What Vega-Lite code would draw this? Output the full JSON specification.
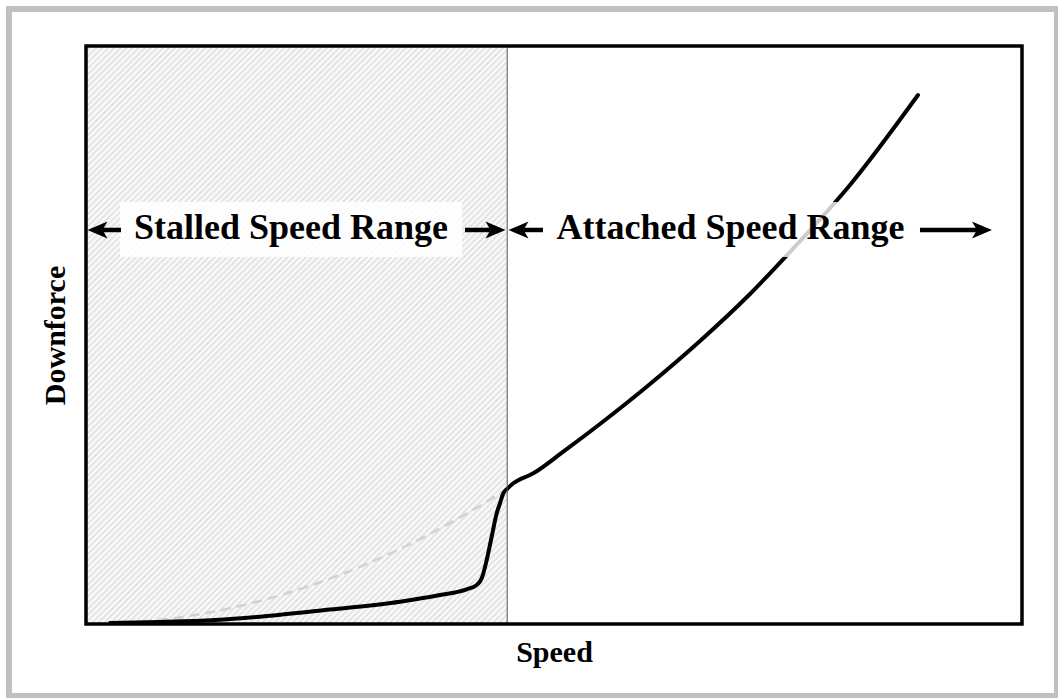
{
  "$schema": "https://vega.github.io/schema/vega-lite/v6.json",
  "width": 936,
  "height": 578,
  "autosize": {"type": "none"},
  "padding": {"left": 86, "top": 46, "right": 36, "bottom": 74},
  "background": "#ffffff",
  "config": {
    "view": {"stroke": null},
    "axis": {"ticks": false, "labels": false, "domain": false, "grid": false, "titleFont": "Liberation Serif", "titleFontSize": 30, "titleFontWeight": "bold", "titleColor": "#000000"}
  },
  "datasets": {
    "one": [{}],
    "actual": [
      {"x": 2.56, "y": 0.17}, {"x": 7.91, "y": 0.35}, {"x": 13.78, "y": 0.69}, {"x": 18.59, "y": 1.26},
      {"x": 26.07, "y": 2.51}, {"x": 33.55, "y": 3.86}, {"x": 37.82, "y": 5.02}, {"x": 40.67, "y": 6.0},
      {"x": 41.74, "y": 6.75}, {"x": 42.28, "y": 7.91}, {"x": 42.81, "y": 11.07}, {"x": 43.34, "y": 15.1},
      {"x": 43.88, "y": 19.15}, {"x": 44.23, "y": 20.88}, {"x": 44.58, "y": 22.61}, {"x": 44.95, "y": 23.3},
      {"x": 45.65, "y": 24.34}, {"x": 47.79, "y": 26.07}, {"x": 50.99, "y": 29.81}, {"x": 54.91, "y": 34.6},
      {"x": 60.26, "y": 41.52}, {"x": 65.6, "y": 48.96}, {"x": 70.94, "y": 57.09}, {"x": 75.21, "y": 64.36},
      {"x": 81.62, "y": 75.95}, {"x": 88.89, "y": 91.52}
    ],
    "ideal": [
      {"x": 2.56, "y": 0.08}, {"x": 6.41, "y": 0.47}, {"x": 10.68, "y": 1.31}, {"x": 16.03, "y": 2.96},
      {"x": 21.37, "y": 5.28}, {"x": 26.71, "y": 8.24}, {"x": 32.05, "y": 11.85}, {"x": 37.39, "y": 16.14},
      {"x": 42.74, "y": 21.09}, {"x": 44.98, "y": 23.36}
    ],
    "labels": [
      {"label": "Stalled Speed Range", "x": 21.9},
      {"label": "Attached Speed Range", "x": 68.86}
    ],
    "arrows": [
      {"dir": "left", "tip": 0.16, "neck": 1.76, "tail": 3.74},
      {"dir": "right", "tip": 44.82, "neck": 43.22, "tail": 40.49},
      {"dir": "left", "tip": 45.14, "neck": 46.74, "tail": 48.82},
      {"dir": "right", "tip": 96.79, "neck": 95.19, "tail": 89.1}
    ]
  },
  "layer": [
    {
      "data": {"name": "one"},
      "mark": {"type": "rect", "fill": {"gradient": "linear", "x1": 0, "y1": 0, "x2": 1, "y2": 1.3723, "stops": [
        {"offset":0,"color":"#e0e0e0"},{"offset":0.0025,"color":"#fff"},{"offset":0.005,"color":"#e0e0e0"},{"offset":0.0075,"color":"#fff"},
        {"offset":0.01,"color":"#e0e0e0"},{"offset":0.0125,"color":"#fff"},{"offset":0.015,"color":"#e0e0e0"},{"offset":0.0175,"color":"#fff"},
        {"offset":0.02,"color":"#e0e0e0"},{"offset":0.0225,"color":"#fff"},{"offset":0.025,"color":"#e0e0e0"},{"offset":0.0275,"color":"#fff"},
        {"offset":0.03,"color":"#e0e0e0"},{"offset":0.0325,"color":"#fff"},{"offset":0.035,"color":"#e0e0e0"},{"offset":0.0375,"color":"#fff"},
        {"offset":0.04,"color":"#e0e0e0"},{"offset":0.0425,"color":"#fff"},{"offset":0.045,"color":"#e0e0e0"},{"offset":0.0475,"color":"#fff"},
        {"offset":0.05,"color":"#e0e0e0"},{"offset":0.0525,"color":"#fff"},{"offset":0.055,"color":"#e0e0e0"},{"offset":0.0575,"color":"#fff"},
        {"offset":0.06,"color":"#e0e0e0"},{"offset":0.0625,"color":"#fff"},{"offset":0.065,"color":"#e0e0e0"},{"offset":0.0675,"color":"#fff"},
        {"offset":0.07,"color":"#e0e0e0"},{"offset":0.0725,"color":"#fff"},{"offset":0.075,"color":"#e0e0e0"},{"offset":0.0775,"color":"#fff"},
        {"offset":0.08,"color":"#e0e0e0"},{"offset":0.0825,"color":"#fff"},{"offset":0.085,"color":"#e0e0e0"},{"offset":0.0875,"color":"#fff"},
        {"offset":0.09,"color":"#e0e0e0"},{"offset":0.0925,"color":"#fff"},{"offset":0.095,"color":"#e0e0e0"},{"offset":0.0975,"color":"#fff"},
        {"offset":0.10,"color":"#e0e0e0"},{"offset":0.1025,"color":"#fff"},{"offset":0.105,"color":"#e0e0e0"},{"offset":0.1075,"color":"#fff"},
        {"offset":0.11,"color":"#e0e0e0"},{"offset":0.1125,"color":"#fff"},{"offset":0.115,"color":"#e0e0e0"},{"offset":0.1175,"color":"#fff"},
        {"offset":0.12,"color":"#e0e0e0"},{"offset":0.1225,"color":"#fff"},{"offset":0.125,"color":"#e0e0e0"},{"offset":0.1275,"color":"#fff"},
        {"offset":0.13,"color":"#e0e0e0"},{"offset":0.1325,"color":"#fff"},{"offset":0.135,"color":"#e0e0e0"},{"offset":0.1375,"color":"#fff"},
        {"offset":0.14,"color":"#e0e0e0"},{"offset":0.1425,"color":"#fff"},{"offset":0.145,"color":"#e0e0e0"},{"offset":0.1475,"color":"#fff"},
        {"offset":0.15,"color":"#e0e0e0"},{"offset":0.1525,"color":"#fff"},{"offset":0.155,"color":"#e0e0e0"},{"offset":0.1575,"color":"#fff"},
        {"offset":0.16,"color":"#e0e0e0"},{"offset":0.1625,"color":"#fff"},{"offset":0.165,"color":"#e0e0e0"},{"offset":0.1675,"color":"#fff"},
        {"offset":0.17,"color":"#e0e0e0"},{"offset":0.1725,"color":"#fff"},{"offset":0.175,"color":"#e0e0e0"},{"offset":0.1775,"color":"#fff"},
        {"offset":0.18,"color":"#e0e0e0"},{"offset":0.1825,"color":"#fff"},{"offset":0.185,"color":"#e0e0e0"},{"offset":0.1875,"color":"#fff"},
        {"offset":0.19,"color":"#e0e0e0"},{"offset":0.1925,"color":"#fff"},{"offset":0.195,"color":"#e0e0e0"},{"offset":0.1975,"color":"#fff"},
        {"offset":0.20,"color":"#e0e0e0"},{"offset":0.2025,"color":"#fff"},{"offset":0.205,"color":"#e0e0e0"},{"offset":0.2075,"color":"#fff"},
        {"offset":0.21,"color":"#e0e0e0"},{"offset":0.2125,"color":"#fff"},{"offset":0.215,"color":"#e0e0e0"},{"offset":0.2175,"color":"#fff"},
        {"offset":0.22,"color":"#e0e0e0"},{"offset":0.2225,"color":"#fff"},{"offset":0.225,"color":"#e0e0e0"},{"offset":0.2275,"color":"#fff"},
        {"offset":0.23,"color":"#e0e0e0"},{"offset":0.2325,"color":"#fff"},{"offset":0.235,"color":"#e0e0e0"},{"offset":0.2375,"color":"#fff"},
        {"offset":0.24,"color":"#e0e0e0"},{"offset":0.2425,"color":"#fff"},{"offset":0.245,"color":"#e0e0e0"},{"offset":0.2475,"color":"#fff"},
        {"offset":0.25,"color":"#e0e0e0"},{"offset":0.2525,"color":"#fff"},{"offset":0.255,"color":"#e0e0e0"},{"offset":0.2575,"color":"#fff"},
        {"offset":0.26,"color":"#e0e0e0"},{"offset":0.2625,"color":"#fff"},{"offset":0.265,"color":"#e0e0e0"},{"offset":0.2675,"color":"#fff"},
        {"offset":0.27,"color":"#e0e0e0"},{"offset":0.2725,"color":"#fff"},{"offset":0.275,"color":"#e0e0e0"},{"offset":0.2775,"color":"#fff"},
        {"offset":0.28,"color":"#e0e0e0"},{"offset":0.2825,"color":"#fff"},{"offset":0.285,"color":"#e0e0e0"},{"offset":0.2875,"color":"#fff"},
        {"offset":0.29,"color":"#e0e0e0"},{"offset":0.2925,"color":"#fff"},{"offset":0.295,"color":"#e0e0e0"},{"offset":0.2975,"color":"#fff"},
        {"offset":0.30,"color":"#e0e0e0"},{"offset":0.3025,"color":"#fff"},{"offset":0.305,"color":"#e0e0e0"},{"offset":0.3075,"color":"#fff"},
        {"offset":0.31,"color":"#e0e0e0"},{"offset":0.3125,"color":"#fff"},{"offset":0.315,"color":"#e0e0e0"},{"offset":0.3175,"color":"#fff"},
        {"offset":0.32,"color":"#e0e0e0"},{"offset":0.3225,"color":"#fff"},{"offset":0.325,"color":"#e0e0e0"},{"offset":0.3275,"color":"#fff"},
        {"offset":0.33,"color":"#e0e0e0"},{"offset":0.3325,"color":"#fff"},{"offset":0.335,"color":"#e0e0e0"},{"offset":0.3375,"color":"#fff"},
        {"offset":0.34,"color":"#e0e0e0"},{"offset":0.3425,"color":"#fff"},{"offset":0.345,"color":"#e0e0e0"},{"offset":0.3475,"color":"#fff"},
        {"offset":0.35,"color":"#e0e0e0"},{"offset":0.3525,"color":"#fff"},{"offset":0.355,"color":"#e0e0e0"},{"offset":0.3575,"color":"#fff"},
        {"offset":0.36,"color":"#e0e0e0"},{"offset":0.3625,"color":"#fff"},{"offset":0.365,"color":"#e0e0e0"},{"offset":0.3675,"color":"#fff"},
        {"offset":0.37,"color":"#e0e0e0"},{"offset":0.3725,"color":"#fff"},{"offset":0.375,"color":"#e0e0e0"},{"offset":0.3775,"color":"#fff"},
        {"offset":0.38,"color":"#e0e0e0"},{"offset":0.3825,"color":"#fff"},{"offset":0.385,"color":"#e0e0e0"},{"offset":0.3875,"color":"#fff"},
        {"offset":0.39,"color":"#e0e0e0"},{"offset":0.3925,"color":"#fff"},{"offset":0.395,"color":"#e0e0e0"},{"offset":0.3975,"color":"#fff"},
        {"offset":0.40,"color":"#e0e0e0"},{"offset":0.4025,"color":"#fff"},{"offset":0.405,"color":"#e0e0e0"},{"offset":0.4075,"color":"#fff"},
        {"offset":0.41,"color":"#e0e0e0"},{"offset":0.4125,"color":"#fff"},{"offset":0.415,"color":"#e0e0e0"},{"offset":0.4175,"color":"#fff"},
        {"offset":0.42,"color":"#e0e0e0"},{"offset":0.4225,"color":"#fff"},{"offset":0.425,"color":"#e0e0e0"},{"offset":0.4275,"color":"#fff"},
        {"offset":0.43,"color":"#e0e0e0"},{"offset":0.4325,"color":"#fff"},{"offset":0.435,"color":"#e0e0e0"},{"offset":0.4375,"color":"#fff"},
        {"offset":0.44,"color":"#e0e0e0"},{"offset":0.4425,"color":"#fff"},{"offset":0.445,"color":"#e0e0e0"},{"offset":0.4475,"color":"#fff"},
        {"offset":0.45,"color":"#e0e0e0"},{"offset":0.4525,"color":"#fff"},{"offset":0.455,"color":"#e0e0e0"},{"offset":0.4575,"color":"#fff"},
        {"offset":0.46,"color":"#e0e0e0"},{"offset":0.4625,"color":"#fff"},{"offset":0.465,"color":"#e0e0e0"},{"offset":0.4675,"color":"#fff"},
        {"offset":0.47,"color":"#e0e0e0"},{"offset":0.4725,"color":"#fff"},{"offset":0.475,"color":"#e0e0e0"},{"offset":0.4775,"color":"#fff"},
        {"offset":0.48,"color":"#e0e0e0"},{"offset":0.4825,"color":"#fff"},{"offset":0.485,"color":"#e0e0e0"},{"offset":0.4875,"color":"#fff"},
        {"offset":0.49,"color":"#e0e0e0"},{"offset":0.4925,"color":"#fff"},{"offset":0.495,"color":"#e0e0e0"},{"offset":0.4975,"color":"#fff"},
        {"offset":0.50,"color":"#e0e0e0"},{"offset":0.5025,"color":"#fff"},{"offset":0.505,"color":"#e0e0e0"},{"offset":0.5075,"color":"#fff"},
        {"offset":0.51,"color":"#e0e0e0"},{"offset":0.5125,"color":"#fff"},{"offset":0.515,"color":"#e0e0e0"},{"offset":0.5175,"color":"#fff"},
        {"offset":0.52,"color":"#e0e0e0"},{"offset":0.5225,"color":"#fff"},{"offset":0.525,"color":"#e0e0e0"},{"offset":0.5275,"color":"#fff"},
        {"offset":0.53,"color":"#e0e0e0"},{"offset":0.5325,"color":"#fff"},{"offset":0.535,"color":"#e0e0e0"},{"offset":0.5375,"color":"#fff"},
        {"offset":0.54,"color":"#e0e0e0"},{"offset":0.5425,"color":"#fff"},{"offset":0.545,"color":"#e0e0e0"},{"offset":0.5475,"color":"#fff"},
        {"offset":0.55,"color":"#e0e0e0"},{"offset":0.5525,"color":"#fff"},{"offset":0.555,"color":"#e0e0e0"},{"offset":0.5575,"color":"#fff"},
        {"offset":0.56,"color":"#e0e0e0"},{"offset":0.5625,"color":"#fff"},{"offset":0.565,"color":"#e0e0e0"},{"offset":0.5675,"color":"#fff"},
        {"offset":0.57,"color":"#e0e0e0"},{"offset":0.5725,"color":"#fff"},{"offset":0.575,"color":"#e0e0e0"},{"offset":0.5775,"color":"#fff"},
        {"offset":0.58,"color":"#e0e0e0"},{"offset":0.5825,"color":"#fff"},{"offset":0.585,"color":"#e0e0e0"},{"offset":0.5875,"color":"#fff"},
        {"offset":0.59,"color":"#e0e0e0"},{"offset":0.5925,"color":"#fff"},{"offset":0.595,"color":"#e0e0e0"},{"offset":0.5975,"color":"#fff"},
        {"offset":0.60,"color":"#e0e0e0"},{"offset":0.6025,"color":"#fff"},{"offset":0.605,"color":"#e0e0e0"},{"offset":0.6075,"color":"#fff"},
        {"offset":0.61,"color":"#e0e0e0"},{"offset":0.6125,"color":"#fff"},{"offset":0.615,"color":"#e0e0e0"},{"offset":0.6175,"color":"#fff"},
        {"offset":0.62,"color":"#e0e0e0"},{"offset":0.6225,"color":"#fff"},{"offset":0.625,"color":"#e0e0e0"},{"offset":0.6275,"color":"#fff"},
        {"offset":0.63,"color":"#e0e0e0"},{"offset":0.6325,"color":"#fff"},{"offset":0.635,"color":"#e0e0e0"},{"offset":0.6375,"color":"#fff"},
        {"offset":0.64,"color":"#e0e0e0"},{"offset":0.6425,"color":"#fff"},{"offset":0.645,"color":"#e0e0e0"},{"offset":0.6475,"color":"#fff"},
        {"offset":0.65,"color":"#e0e0e0"},{"offset":0.6525,"color":"#fff"},{"offset":0.655,"color":"#e0e0e0"},{"offset":0.6575,"color":"#fff"},
        {"offset":0.66,"color":"#e0e0e0"},{"offset":0.6625,"color":"#fff"},{"offset":0.665,"color":"#e0e0e0"},{"offset":0.6675,"color":"#fff"},
        {"offset":0.67,"color":"#e0e0e0"},{"offset":0.6725,"color":"#fff"},{"offset":0.675,"color":"#e0e0e0"},{"offset":0.6775,"color":"#fff"},
        {"offset":0.68,"color":"#e0e0e0"},{"offset":0.6825,"color":"#fff"},{"offset":0.685,"color":"#e0e0e0"},{"offset":0.6875,"color":"#fff"},
        {"offset":0.69,"color":"#e0e0e0"},{"offset":0.6925,"color":"#fff"},{"offset":0.695,"color":"#e0e0e0"},{"offset":0.6975,"color":"#fff"},
        {"offset":0.70,"color":"#e0e0e0"},{"offset":0.7025,"color":"#fff"},{"offset":0.705,"color":"#e0e0e0"},{"offset":0.7075,"color":"#fff"},
        {"offset":0.71,"color":"#e0e0e0"},{"offset":0.7125,"color":"#fff"},{"offset":0.715,"color":"#e0e0e0"},{"offset":0.7175,"color":"#fff"},
        {"offset":0.72,"color":"#e0e0e0"},{"offset":0.7225,"color":"#fff"},{"offset":0.725,"color":"#e0e0e0"},{"offset":0.7275,"color":"#fff"},
        {"offset":0.73,"color":"#e0e0e0"},{"offset":0.7325,"color":"#fff"},{"offset":0.735,"color":"#e0e0e0"},{"offset":0.7375,"color":"#fff"},
        {"offset":0.74,"color":"#e0e0e0"},{"offset":0.7425,"color":"#fff"},{"offset":0.745,"color":"#e0e0e0"},{"offset":0.7475,"color":"#fff"},
        {"offset":0.75,"color":"#e0e0e0"},{"offset":0.7525,"color":"#fff"},{"offset":0.755,"color":"#e0e0e0"},{"offset":0.7575,"color":"#fff"},
        {"offset":0.76,"color":"#e0e0e0"},{"offset":0.7625,"color":"#fff"},{"offset":0.765,"color":"#e0e0e0"},{"offset":0.7675,"color":"#fff"},
        {"offset":0.77,"color":"#e0e0e0"},{"offset":0.7725,"color":"#fff"},{"offset":0.775,"color":"#e0e0e0"},{"offset":0.7775,"color":"#fff"},
        {"offset":0.78,"color":"#e0e0e0"},{"offset":0.7825,"color":"#fff"},{"offset":0.785,"color":"#e0e0e0"},{"offset":0.7875,"color":"#fff"},
        {"offset":0.79,"color":"#e0e0e0"},{"offset":0.7925,"color":"#fff"},{"offset":0.795,"color":"#e0e0e0"},{"offset":0.7975,"color":"#fff"},
        {"offset":0.80,"color":"#e0e0e0"},{"offset":0.8025,"color":"#fff"},{"offset":0.805,"color":"#e0e0e0"},{"offset":0.8075,"color":"#fff"},
        {"offset":0.81,"color":"#e0e0e0"},{"offset":0.8125,"color":"#fff"},{"offset":0.815,"color":"#e0e0e0"},{"offset":0.8175,"color":"#fff"},
        {"offset":0.82,"color":"#e0e0e0"},{"offset":0.8225,"color":"#fff"},{"offset":0.825,"color":"#e0e0e0"}
      ]}},
      "encoding": {
        "x": {"datum": 0, "type": "quantitative", "scale": {"domain": [0, 100], "nice": false, "zero": false}, "axis": {"title": "Speed", "titlePadding": 13}},
        "x2": {"datum": 45},
        "y": {"datum": 0, "type": "quantitative", "scale": {"domain": [0, 100], "nice": false, "zero": false}, "axis": {"title": "Downforce", "titlePadding": 16}},
        "y2": {"datum": 100}
      }
    },
    {
      "data": {"name": "ideal"},
      "mark": {"type": "line", "interpolate": "monotone", "stroke": "#d2d2d2", "strokeWidth": 2.5, "strokeDash": [10, 6]},
      "encoding": {
        "x": {"field": "x", "type": "quantitative", "scale": {"domain": [0, 100], "nice": false, "zero": false}},
        "y": {"field": "y", "type": "quantitative", "scale": {"domain": [0, 100], "nice": false, "zero": false}}
      }
    },
    {
      "data": {"name": "actual"},
      "mark": {"type": "line", "interpolate": "monotone", "stroke": "#000000", "strokeWidth": 4, "strokeCap": "round", "strokeJoin": "round"},
      "encoding": {
        "x": {"field": "x", "type": "quantitative", "scale": {"domain": [0, 100], "nice": false, "zero": false}},
        "y": {"field": "y", "type": "quantitative", "scale": {"domain": [0, 100], "nice": false, "zero": false}}
      }
    },
    {
      "data": {"name": "one"},
      "mark": {"type": "rule", "stroke": "#555555", "strokeWidth": 1},
      "encoding": {
        "x": {"datum": 45, "type": "quantitative"},
        "y": {"datum": 0, "type": "quantitative"},
        "y2": {"datum": 100}
      }
    },
    {
      "data": {"name": "one"},
      "mark": {"type": "rect", "fill": "#ffffff", "opacity": 0.85},
      "encoding": {
        "x": {"datum": 3.63, "type": "quantitative"},
        "x2": {"datum": 40.17},
        "y": {"datum": 63.5, "type": "quantitative"},
        "y2": {"datum": 73.0}
      }
    },
    {
      "data": {"name": "one"},
      "mark": {"type": "rect", "fill": "#ffffff", "opacity": 0.8},
      "encoding": {
        "x": {"datum": 48.72, "type": "quantitative"},
        "x2": {"datum": 89.0},
        "y": {"datum": 63.5, "type": "quantitative"},
        "y2": {"datum": 73.0}
      }
    },
    {
      "data": {"name": "labels"},
      "mark": {"type": "text", "font": "Liberation Serif", "fontSize": 36, "fontWeight": "bold", "color": "#000000", "align": "center", "baseline": "alphabetic"},
      "encoding": {
        "x": {"field": "x", "type": "quantitative"},
        "y": {"datum": 66.61, "type": "quantitative"},
        "text": {"field": "label", "type": "nominal"}
      }
    },
    {
      "data": {"name": "arrows"},
      "mark": {"type": "rule", "stroke": "#000000", "strokeWidth": 4.5, "strokeCap": "butt"},
      "encoding": {
        "x": {"field": "tail", "type": "quantitative"},
        "x2": {"field": "neck"},
        "y": {"datum": 68.17, "type": "quantitative"}
      }
    },
    {
      "data": {"name": "arrows"},
      "mark": {"type": "point", "filled": true, "color": "#000000", "opacity": 1, "size": 400, "strokeWidth": 0},
      "encoding": {
        "x": {"field": "tip", "type": "quantitative"},
        "y": {"datum": 68.17, "type": "quantitative"},
        "shape": {"field": "dir", "type": "nominal", "scale": {"domain": ["left", "right"], "range": ["M0,0L2,-0.85L1.5,0L2,0.85Z", "M0,0L-2,-0.85L-1.5,0L-2,0.85Z"]}, "legend": null}
      }
    },
    {
      "data": {"name": "one"},
      "mark": {"type": "rect", "fill": null, "fillOpacity": 0, "stroke": "#000000", "strokeWidth": 3.5},
      "encoding": {
        "x": {"datum": 0, "type": "quantitative"},
        "x2": {"datum": 100},
        "y": {"datum": 0, "type": "quantitative"},
        "y2": {"datum": 100}
      }
    },
    {
      "data": {"name": "one"},
      "mark": {"type": "rect", "fill": null, "fillOpacity": 0, "stroke": "#c0c0c0", "strokeWidth": 6},
      "encoding": {
        "x": {"datum": -8.23, "type": "quantitative"},
        "x2": {"datum": 103.74},
        "y": {"datum": 106.4, "type": "quantitative"},
        "y2": {"datum": -12.46}
      }
    }
  ]
}
